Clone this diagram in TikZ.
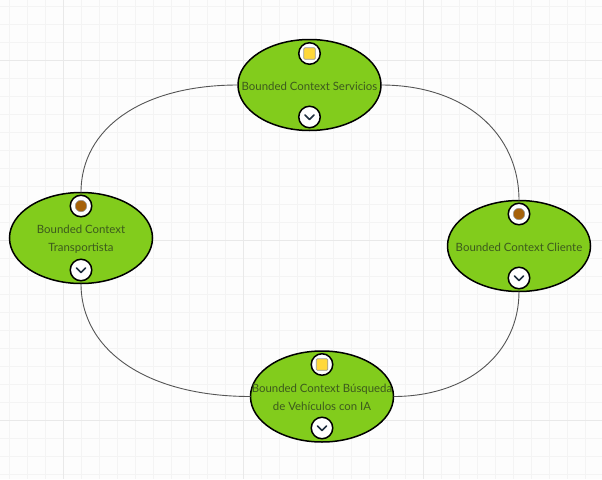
\documentclass[tikz,border=0pt]{standalone}
\usepackage{fontspec}
\setmainfont{Lato}
\usetikzlibrary{shapes.geometric}
\definecolor{bgc}{HTML}{FDFDFD}
\definecolor{minorc}{HTML}{F4F4F4}
\definecolor{majorc}{HTML}{E9E9E9}
\definecolor{ctxgreen}{HTML}{82CC1C}
\definecolor{ctxtext}{HTML}{3C5A1C}
\definecolor{linkc}{HTML}{555555}
\definecolor{sqy}{HTML}{FFD83A}
\definecolor{brownc}{HTML}{A6620A}
\definecolor{chevc}{HTML}{1F2F3F}
\tikzset{
  x=1pt,y=-1pt,
  ctx/.style={draw=black,line width=1.5pt,fill=ctxgreen,ellipse,inner sep=0pt,outer sep=0pt,minimum width=143pt,minimum height=91pt},
  ctxlabel/.style={text=ctxtext,font=\fontsize{11.4pt}{17.5pt}\selectfont,align=center,inner sep=0pt},
  badge/.style={draw=black,line width=1.5pt,fill=white,circle,inner sep=0pt,minimum size=21.5pt},
  sqmark/.style={draw=black!40,line width=.7pt,fill=sqy,rounded corners=1pt,inner sep=0pt,minimum size=11.5pt},
  dotmark/.style={draw=black!40,line width=.5pt,fill=brownc,circle,inner sep=0pt,minimum size=11.5pt},
  chev/.style={draw=chevc,line width=1.5pt,line cap=round,line join=round},
  link/.style={draw=linkc,line width=.9pt}
}
\newcommand{\chevron}[1]{\draw[chev] ([shift={(-4.5,-2)}]#1.center) -- ([shift={(0,2.5)}]#1.center) -- ([shift={(4.5,-2)}]#1.center);}
\begin{document}
\begin{tikzpicture}
\useasboundingbox (0,0) rectangle (602,479);
\fill[bgc] (0,0) rectangle (602,479);
\foreach \k in {0,...,33} {\draw[minorc,line width=.8pt] ({9+18*\k},0) -- ({9+18*\k},479);}
\foreach \k in {0,...,26} {\draw[minorc,line width=.8pt] (0,{6+18*\k}) -- (602,{6+18*\k});}
\foreach \v in {63,243,423} {\draw[majorc,line width=.9pt] (\v,0) -- (\v,479);}
\foreach \v in {60,240,420} {\draw[majorc,line width=.9pt] (0,\v) -- (602,\v);}

\node[ctx] (top) at (309.5,85) {};
\node[ctx] (left) at (81,238) {};
\node[ctx] (bot) at (322,396.5) {};
\node[ctx] (right) at (519,246) {};

\draw[link] (top.west) .. controls +(-95,0) and +(0,-65) .. (left.north);
\draw[link] (left.south) .. controls +(0,68) and +(-102,0) .. (bot.west);
\draw[link] (bot.east) .. controls +(74,0) and +(0,62) .. (right.south);
\draw[link] (right.north) .. controls +(0,-68) and +(83,0) .. (top.east);

\node[ctxlabel] (toplab) at (309.5,86) {Bounded Context Servicios};
\node[ctxlabel] (leftlab) at (81,239.5) {Bounded Context\\Transportista};
\node[ctxlabel] (botlab) at (322,397.5) {Bounded Context Búsqueda\\de Vehículos con IA};
\node[ctxlabel] (rightlab) at (519,247) {Bounded Context Cliente};

\node[badge] (ta) at (309.5,53.5) {};
\node[sqmark] (tam) at (ta.center) {};
\node[badge] (tb) at (309.5,117) {};
\chevron{tb}
\node[badge] (la) at (81,206) {};
\node[dotmark] (lam) at (la.center) {};
\node[badge] (lb) at (81,270) {};
\chevron{lb}
\node[badge] (ba) at (322,364.5) {};
\node[sqmark] (bam) at (ba.center) {};
\node[badge] (bb) at (322,428) {};
\chevron{bb}
\node[badge] (ra) at (519,214) {};
\node[dotmark] (ram) at (ra.center) {};
\node[badge] (rb) at (519,278) {};
\chevron{rb}
\end{tikzpicture}
\end{document}
